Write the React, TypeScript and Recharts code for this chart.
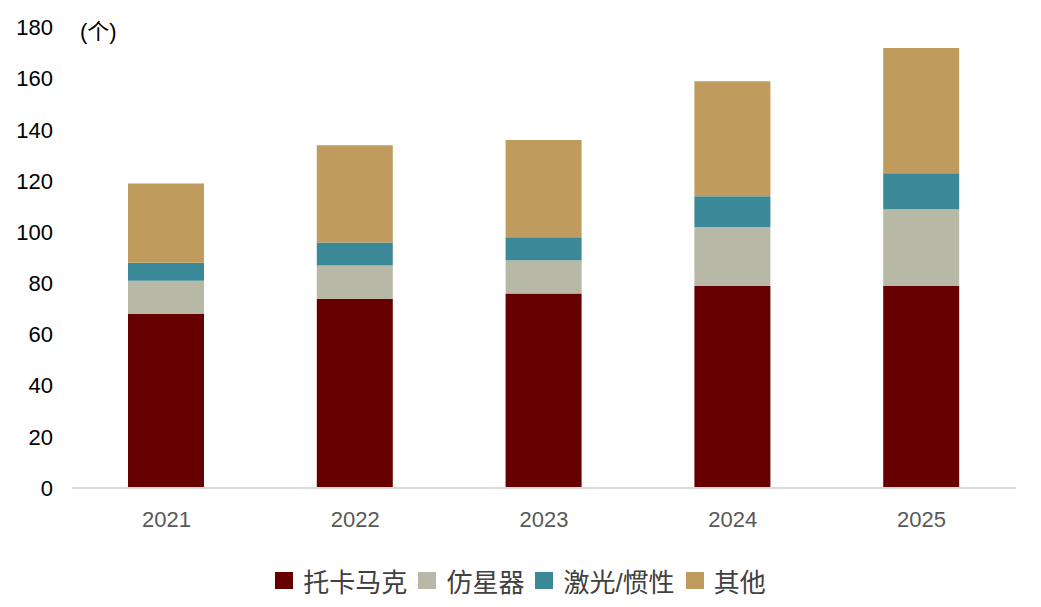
import React from "react";
import { BarChart, Bar, XAxis, YAxis } from "recharts";

const years = ["2021", "2022", "2023", "2024", "2025"];
const tokamak = [68, 74, 76, 79, 79];
const stellarator = [13, 13, 13, 23, 30];
const laser = [7, 9, 9, 12, 14];
const other = [31, 38, 38, 45, 49];
const yTicks = [0, 20, 40, 60, 80, 100, 120, 140, 160, 180];

const seriesNames = ["托卡马克", "仿星器", "激光/惯性", "其他"];
const seriesKeys = ["tokamak", "stellarator", "laser", "other"];
const colors = ["#660000", "#B8B8A6", "#3B8899", "#BF9C5E"];

const data = years.map((y, i) => ({
  year: y,
  tokamak: tokamak[i],
  stellarator: stellarator[i],
  laser: laser[i],
  other: other[i],
}));

const FONT = "'Liberation Sans', Arial, 'Noto Sans CJK SC', sans-serif";

const LegendContent = () => (
  <div
    style={{
      position: "absolute",
      left: 0,
      width: 1025,
      top: 556,
      height: 32,
      display: "flex",
      justifyContent: "center",
      alignItems: "center",
      fontFamily: FONT,
      fontSize: 26,
      color: "#404040",
      boxSizing: "border-box",
    }}
  >
    {seriesNames.map((n, i) => (
      <div
        key={n}
        style={{
          display: "flex",
          alignItems: "center",
          marginRight: i === seriesNames.length - 1 ? 0 : 11,
        }}
      >
        <span
          style={{
            display: "inline-block",
            width: 18,
            height: 17,
            background: colors[i],
            marginRight: 10,
          }}
        />
        <span>{n}</span>
      </div>
    ))}
  </div>
);

export default function App() {
  return (
    <div style={{ position: "relative", width: 1025, height: 591, fontFamily: FONT }}>
      <BarChart
        width={1025}
        height={591}
        data={data}
        margin={{ top: 19.5, right: 17, bottom: 61, left: 0 }}
      >
        <XAxis
          dataKey="year"
          axisLine={{ stroke: "#D9D9D9", strokeWidth: 2 }}
          tickLine={false}
          tick={{ fill: "#595959", fontSize: 22, fontFamily: FONT }}
          tickMargin={17}
          height={50}
        />
        <YAxis
          domain={[0, 180]}
          ticks={yTicks}
          interval={0}
          axisLine={false}
          tickLine={false}
          tickSize={0}
          tickMargin={19}
          width={64}
          tick={{ fill: "#000000", fontSize: 22, fontFamily: FONT }}
        />
        {seriesKeys.map((k, i) => (
          <Bar
            key={k}
            dataKey={k}
            name={seriesNames[i]}
            stackId="a"
            fill={colors[i]}
            barSize={76}
            isAnimationActive={false}
          />
        ))}
      </BarChart>
      <LegendContent />
      <div
        style={{
          position: "absolute",
          left: 72,
          top: 11,
          fontSize: 22,
          color: "#000",
          fontFamily: FONT,
          lineHeight: "26px",
        }}
      >
        (个)
      </div>
    </div>
  );
}
